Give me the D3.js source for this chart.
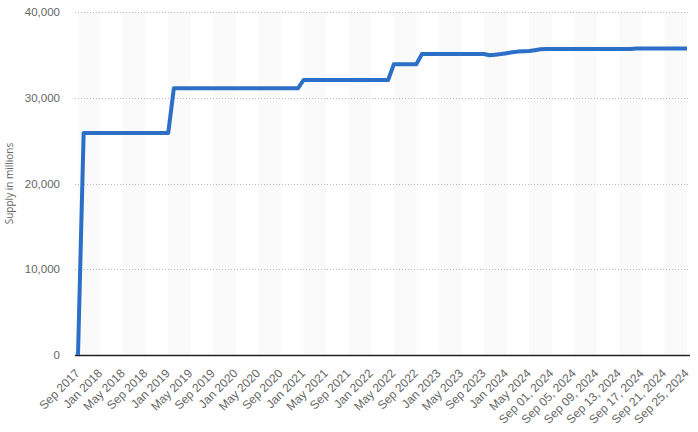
<!DOCTYPE html>
<html><head><meta charset="utf-8">
<script src="https://cdn.jsdelivr.net/npm/d3@7"></script>
<style>body{margin:0;background:#fff;}svg{display:block;font-family:"Open Sans",Arial,sans-serif;}</style>
</head><body>
<svg id="c" width="698" height="432"></svg>
<script>
// Categories: monthly Sep 2017 .. Aug 2024, then daily Sep 01 .. Sep 25, 2024
const months = ["Jan","Feb","Mar","Apr","May","Jun","Jul","Aug","Sep","Oct","Nov","Dec"];
const categories = [];
for (let i = 0; i < 84; i++) { const m = (8 + i) % 12, yr = 2017 + Math.floor((8 + i) / 12); categories.push(months[m] + " " + yr); }
for (let d = 1; d <= 25; d++) categories.push("Sep " + String(d).padStart(2, "0") + ", 2024");

// Supply in millions
const supply = [
  0,
  25900,25900,25900,25900,25900,25900,25900,25900,25900,25900,25900,25900,25900,25900,25900,25900,
  31100,31100,31100,31100,31100,31100,31100,31100,31100,31100,31100,31100,31100,31100,31100,31100,31100,31100,31100,31100,31100,31100,31100,
  32070,32070,32070,32070,32070,32070,32070,32070,32070,32070,32070,32070,32070,32070,32070,32070,
  33900,33900,33900,33900,33900,
  35100,35100,35100,35100,35100,35100,35100,35100,35100,35100,35100,35100,
  34950,35020,35100,35200,35300,35380,35420,35450,35550,35650,
  35690,35690,35690,35690,35690,35690,35690,35690,35690,35690,35690,35690,35690,35690,35690,35690,
  35740,35740,35740,35740,35740,35740,35740,35740,35740,35740
];
const yTicks = [0, 10000, 20000, 30000, 40000];
const labelEvery = 4;

const svg = d3.select("#c");
const mLeft = 78, mRight = 687, mTop = 12, mBottom = 355;

const x = d3.scalePoint().domain(categories).range([mLeft, mRight]);
const y = d3.scaleLinear().domain([0, 40000]).range([mBottom, mTop]);
const step = x.step();

// alternating bands
const bandStarts = categories.filter((c, i) => i % (labelEvery * 2) === 0 && i + labelEvery < categories.length);
svg.append("g").selectAll("rect").data(bandStarts).join("rect")
  .attr("x", d => x(d)).attr("y", mTop)
  .attr("width", step * labelEvery).attr("height", mBottom - mTop)
  .attr("fill", "#fafafa");

// gridlines
svg.append("g").selectAll("line").data(yTicks.filter(t => t > 0)).join("line")
  .attr("x1", 75).attr("x2", 690)
  .attr("y1", d => Math.round(y(d)) + 0.5).attr("y2", d => Math.round(y(d)) + 0.5)
  .attr("stroke", "#bbb").attr("stroke-dasharray", "1,2").attr("stroke-width", 1);

// y axis labels
const yAxis = d3.axisLeft(y).tickValues(yTicks).tickSize(0).tickPadding(0)
  .tickFormat(d3.format(","));
const gy = svg.append("g").attr("transform", "translate(60,0)").call(yAxis);
gy.select(".domain").remove();
gy.selectAll("text").attr("fill", "#666").style("font-size", "11.5px");

// x axis
const xAxis = d3.axisBottom(x).tickValues(categories.filter((c, i) => i % labelEvery === 0))
  .tickSize(0).tickPadding(0);
const gx = svg.append("g").attr("transform", `translate(0,${mBottom})`).call(xAxis);
gx.select(".domain").remove();
gx.selectAll("text").attr("fill", "#666").style("font-size", "12px")
  .attr("text-anchor", "end").attr("dy", null).attr("y", 0)
  .attr("transform", "translate(2,19) rotate(-45)");

svg.append("line").attr("x1", 75).attr("x2", 690).attr("y1", mBottom + 0.5).attr("y2", mBottom + 0.5)
  .attr("stroke", "#222").attr("stroke-width", 1.5);

// y title
svg.append("text").attr("transform", `translate(13,${(mTop + mBottom) / 2}) rotate(-90)`)
  .attr("text-anchor", "middle").attr("fill", "#666").style("font-size", "10px")
  .text("Supply in millions");

// line
const line = d3.line().x((d, i) => x(categories[i])).y(d => y(d));
svg.append("path").datum(supply).attr("d", line)
  .attr("fill", "none").attr("stroke", "#2b6fc7").attr("stroke-width", 4)
  .attr("stroke-linejoin", "round").attr("stroke-linecap", "butt");
</script>
</body></html>
